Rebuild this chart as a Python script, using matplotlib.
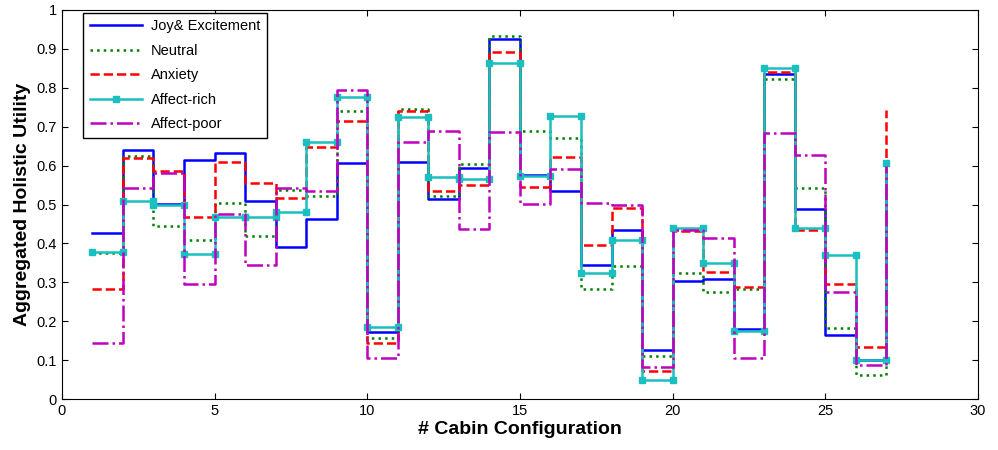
import matplotlib
matplotlib.use("Agg")
import matplotlib.pyplot as plt
import numpy as np

plt.rcParams['font.family'] = ['Liberation Sans', 'DejaVu Sans']

# cabin configurations 1..27
configs = list(range(1, 28))

joy = [0.428, 0.640, 0.501, 0.615, 0.632, 0.510, 0.390, 0.463, 0.606, 0.173,
       0.609, 0.513, 0.593, 0.925, 0.575, 0.536, 0.345, 0.434, 0.126, 0.303,
       0.308, 0.180, 0.835, 0.488, 0.165, 0.100, 0.600]
neutral = [0.375, 0.625, 0.444, 0.410, 0.505, 0.418, 0.537, 0.523, 0.740, 0.158,
           0.745, 0.523, 0.603, 0.934, 0.689, 0.671, 0.284, 0.343, 0.110, 0.323,
           0.276, 0.284, 0.823, 0.543, 0.183, 0.062, 0.620]
anxiety = [0.282, 0.619, 0.587, 0.469, 0.609, 0.555, 0.517, 0.648, 0.714, 0.143,
           0.741, 0.536, 0.549, 0.892, 0.545, 0.622, 0.397, 0.490, 0.073, 0.433,
           0.326, 0.289, 0.841, 0.435, 0.295, 0.133, 0.743]
affect_rich = [0.377, 0.508, 0.499, 0.374, 0.469, 0.469, 0.482, 0.660, 0.777, 0.186,
               0.724, 0.571, 0.565, 0.864, 0.574, 0.727, 0.323, 0.410, 0.050, 0.440,
               0.349, 0.175, 0.850, 0.440, 0.370, 0.100, 0.606]
affect_poor = [0.143, 0.542, 0.581, 0.296, 0.476, 0.344, 0.542, 0.535, 0.794, 0.107,
               0.660, 0.689, 0.437, 0.686, 0.501, 0.590, 0.505, 0.499, 0.083, 0.435,
               0.415, 0.107, 0.683, 0.627, 0.276, 0.087, 0.600]


def stairs_xy(x, y):
    # vertices of a MATLAB-style stairs plot
    x = np.asarray(x, float)
    y = np.asarray(y, float)
    xs = np.repeat(x, 2)[1:]
    ys = np.repeat(y, 2)[:-1]
    return xs, ys


fig = plt.figure(figsize=(9.98, 4.5), dpi=100)
ax = fig.add_axes([0.062, 0.113, 0.918, 0.865])

series = [
    ("Joy& Excitement", joy, dict(color=(0, 0, 1), ls='-')),
    ("Neutral", neutral, dict(color=(0, 0.5, 0), ls=':')),
    ("Anxiety", anxiety, dict(color=(1, 0, 0), ls='--')),
    ("Affect-rich", affect_rich, dict(color=(0.1, 0.75, 0.75), ls='-', marker='s',
                                      ms=5, mfc=(0.1, 0.75, 0.75))),
    ("Affect-poor", affect_poor, dict(color=(0.75, 0, 0.75), ls='-.')),
]
for name, vals, style in series:
    xs, ys = stairs_xy(configs, vals)
    ax.plot(xs, ys, lw=1.8, label=name, **style)

ax.set_xlim(0, 30)
ax.set_ylim(0, 1)
ax.set_xticks(np.arange(0, 31, 5))
ax.set_yticks(np.arange(0, 1.01, 0.1))
ax.set_yticklabels(["0", "0.1", "0.2", "0.3", "0.4", "0.5", "0.6", "0.7", "0.8", "0.9", "1"])
ax.tick_params(direction='in', top=True, right=True, labelsize=10.5, length=4)
ax.set_xlabel("# Cabin Configuration", fontsize=14, fontweight='bold', labelpad=2)
ax.set_ylabel("Aggregated Holistic Utility", fontsize=14, fontweight='bold', labelpad=4)

leg = ax.legend(loc='upper left', fontsize=10.5, fancybox=False, framealpha=1,
                edgecolor='black', handlelength=3.6, borderpad=0.45,
                labelspacing=0.72, handletextpad=0.6, borderaxespad=0.2,
                bbox_to_anchor=(0.02, 1.0))
leg.get_frame().set_linewidth(1.0)

fig.savefig("out.png", dpi=100)
